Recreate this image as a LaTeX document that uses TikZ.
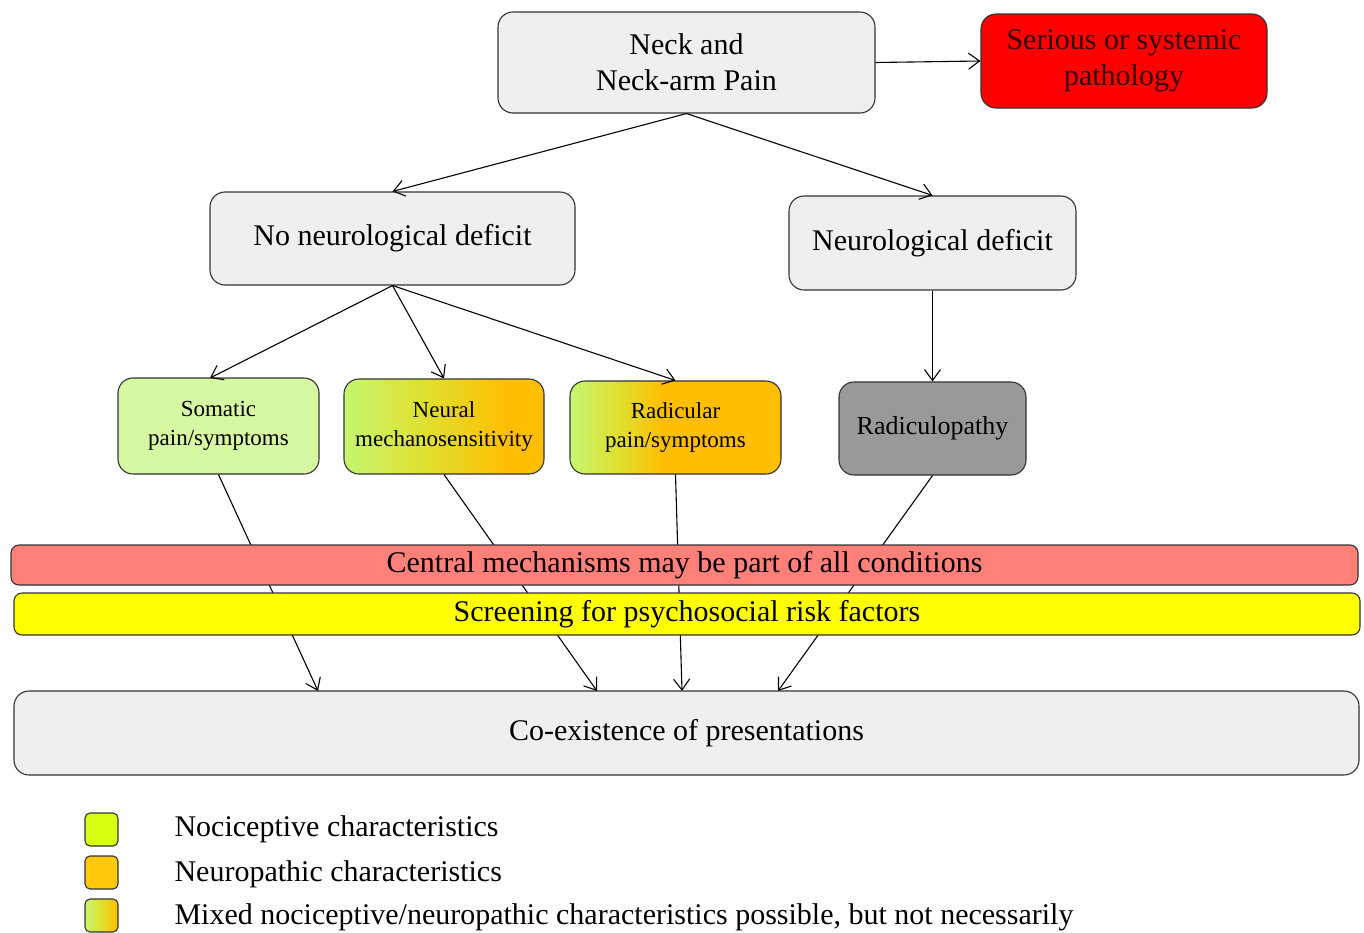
\documentclass[tikz,border=0pt]{standalone}
\usepackage{fontspec}
\setmainfont{Liberation Serif}
\usetikzlibrary{arrows.meta}

\definecolor{boxgray}{RGB}{239,239,239}
\definecolor{sickred}{RGB}{255,0,0}
\definecolor{sicktext}{RGB}{50,0,0}
\definecolor{somagreen}{RGB}{214,248,162}
\definecolor{limeL}{RGB}{198,246,112}
\definecolor{yelG}{RGB}{222,226,50}
\definecolor{orng}{RGB}{255,190,0}
\definecolor{radgray}{RGB}{153,153,153}
\definecolor{centralred}{RGB}{255,128,120}
\definecolor{screenyel}{RGB}{255,255,0}
\definecolor{nocilime}{RGB}{214,255,18}
\definecolor{neuroorng}{RGB}{255,200,10}

\pgfdeclarehorizontalshading{mixneural}{100bp}{color(0bp)=(limeL); color(25bp)=(limeL); color(44bp)=(yelG); color(66bp)=(orng); color(100bp)=(orng)}
\pgfdeclarehorizontalshading{mixradic}{100bp}{color(0bp)=(limeL); color(25bp)=(limeL); color(36bp)=(yelG); color(47bp)=(orng); color(100bp)=(orng)}
\pgfdeclarehorizontalshading{mixlegend}{100bp}{color(0bp)=(limeL); color(25bp)=(limeL); color(48bp)=(yelG); color(75bp)=(orng); color(100bp)=(orng)}

\tikzset{every picture/.style={line width=1.1pt}}
\tikzset{
  box/.style={draw=black!80, rounded corners=15pt, align=center, inner sep=0pt, font=\fontsize{30}{36}\selectfont},
  smallbox/.style={box, font=\fontsize{23}{29}\selectfont},
  band/.style={draw=black!80, rounded corners=8pt, inner sep=0pt, font=\fontsize{30}{36}\selectfont},
  legsq/.style={draw=black!80, rounded corners=5pt, minimum width=33pt, minimum height=33pt, inner sep=0pt},
  legtext/.style={anchor=west, inner sep=0pt, font=\fontsize{30}{36}\selectfont},
  arr/.style={-{Straight Barb[length=11pt,width=16pt]}, line width=1.1pt}
}

\begin{document}
\begin{tikzpicture}[x=1pt,y=1pt,yscale=-1,xscale=1]
\useasboundingbox (0,0) rectangle (1364,932);

% top row
\node [box, fill=boxgray, minimum width=377pt, minimum height=101pt] (neck) at (686.5,62.5) {Neck and\\Neck-arm Pain};
\node [box, fill=sickred, text=sicktext, minimum width=286pt, minimum height=94pt] (serious) at (1124,61) {Serious or systemic\\pathology};

% second row
\node [box, fill=boxgray, minimum width=365pt, minimum height=93pt] (noneuro) at (392.5,238.5) {No neurological deficit};
\node [box, fill=boxgray, minimum width=287pt, minimum height=94pt] (neuro) at (932.5,243) {Neurological deficit};

% third row
\node [smallbox, fill=somagreen, minimum width=201pt, minimum height=96pt] (somatic) at (218.5,426) {Somatic\\pain/symptoms};
\node [smallbox, shading=mixneural, minimum width=200pt, minimum height=95pt] (neural) at (444,426.5) {Neural\\mechanosensitivity};
\node [smallbox, shading=mixradic, minimum width=211pt, minimum height=93pt] (radicular) at (675.5,427.5) {Radicular\\pain/symptoms};
\node [box, fill=radgray, font=\fontsize{26}{32}\selectfont, minimum width=187pt, minimum height=93pt] (radic) at (932.5,428.5) {Radiculopathy};

% bottom box
\node [box, fill=boxgray, minimum width=1345pt, minimum height=84pt] (coex) at (686.5,733) {Co-existence of presentations};
\coordinate (e1) at (318,691);
\coordinate (e2) at (597,691);
\coordinate (e3) at (682,691);
\coordinate (e4) at (778,691);

% connectors
\draw [arr] (neck.east) -- (serious.west);
\draw [arr] (neck.south) -- (noneuro.north);
\draw [arr] (neck.south) -- (neuro.north);
\draw [arr] (noneuro.south) -- (210,378);
\draw [arr] (noneuro.south) -- (neural.north);
\draw [arr] (noneuro.south) -- (radicular.north);
\draw [arr] (neuro.south) -- (radic.north);
\draw [arr] (somatic.south) -- (e1);
\draw [arr] (neural.south) -- (e2);
\draw [arr] (radicular.south) -- (e3);
\draw [arr] (radic.south) -- (e4);

% bands over the connectors
\node [band, fill=centralred, minimum width=1347pt, minimum height=40pt] (central) at (684.5,565) {Central mechanisms may be part of all conditions};
\node [band, fill=screenyel, minimum width=1346pt, minimum height=42pt] (screen) at (687,614) {Screening for psychosocial risk factors};

% legend
\node [legsq, fill=nocilime] (lnoci) at (101.5,829.5) {};
\node [legsq, fill=neuroorng] (lneuro) at (101.5,872.5) {};
\node [legsq, shading=mixlegend] (lmixed) at (101.5,915.5) {};
\node [legtext] (tnoci) at (174,829) {Nociceptive characteristics};
\node [legtext] (tneuro) at (174,874) {Neuropathic characteristics};
\node [legtext] (tmixed) at (174,917) {Mixed nociceptive/neuropathic characteristics possible, but not necessarily};

\end{tikzpicture}
\end{document}
